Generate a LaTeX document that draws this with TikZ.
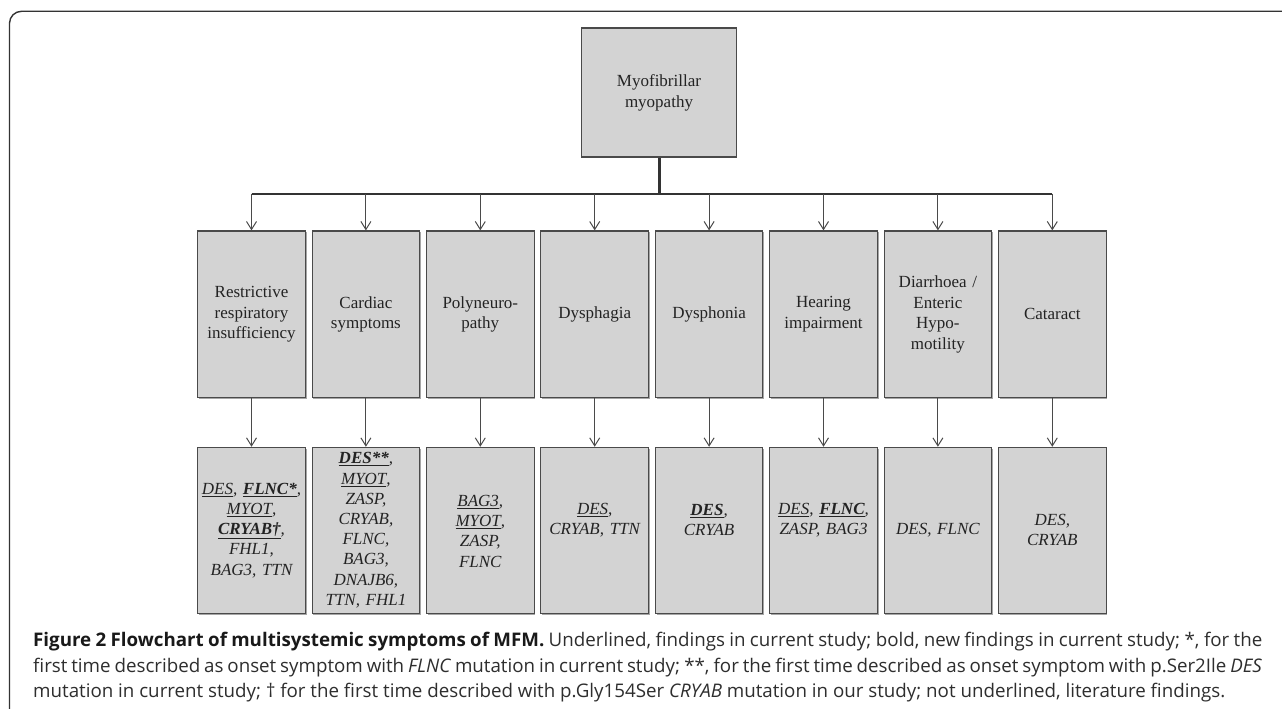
\documentclass[tikz,border=0pt]{standalone}
\usepackage{fontspec}
\setmainfont{Liberation Serif}
\newfontfamily\capfont{Open Sans}
\usetikzlibrary{arrows.meta,shadows}
\definecolor{boxfill}{HTML}{D3D3D3}
\definecolor{boxline}{HTML}{4A4A4A}
\definecolor{txt}{HTML}{232323}
\definecolor{conn}{HTML}{4A4A4A}
\definecolor{frm}{HTML}{333333}
\newcommand\ulgene[1]{\underline{#1}}
\newcommand\ulbold[1]{\underline{\textbf{#1}}}
\newdimen\capwd
\begin{document}
\setbox0=\hbox{\capfont\fontsize{15}{18}\selectfont mutation in current study; † for the first time described with p.Gly154Ser \textit{CRYAB} mutation in our study; not underlined, literature findings.}%
\global\capwd=\wd0
\pgfmathsetmacro\capratio{1192/\the\capwd}%
\pgfmathsetmacro\capsize{15*\capratio}%
\begin{tikzpicture}[x=1pt,y=-1pt,
  boxbase/.style={draw=boxline, line width=1.1pt, fill=boxfill, inner sep=0pt,
    drop shadow={shadow xshift=1.2pt, shadow yshift=-1.2pt, opacity=0.35, fill=black}},
  topbox/.style={boxbase, minimum width=154.3pt, minimum height=129pt, text width=150pt,
    align=center, font=\fontsize{17}{20.7}\selectfont, text=txt},
  symbox/.style={boxbase, minimum width=107.6pt, minimum height=166.7pt, text width=104pt,
    align=center, font=\fontsize{17}{20.7}\selectfont, text=txt},
  genebox/.style={boxbase, minimum width=107.6pt, minimum height=166pt},
  genetext/.style={inner sep=0pt, text width=106pt, align=center,
    font=\fontsize{17}{20.2}\selectfont\itshape, text=txt},
  arrowline/.style={draw=conn, line width=1.1pt, -{Straight Barb[length=8pt,width=10pt,line width=1pt]}},
  trunkline/.style={draw=frm, line width=3pt},
  busline/.style={draw=frm, line width=1.9pt},
  frameline/.style={draw=frm, line width=1.4pt, rounded corners=12pt},
  capline/.style={anchor=base west, inner sep=0pt, text=black!82}
]
\useasboundingbox (0,0) rectangle (1282,709);
\fill[white] (0,0) rectangle (1282,709);
\begin{scope}
  \clip (0,0) rectangle (1282,709);
  \draw[frameline] (9.5,11.3) rectangle (1330,760);
\end{scope}

% top node
\node[topbox] (top) at (659,92.5) {Myofibrillar\\myopathy};

% middle row
\foreach \i/\t in {1/{Restrictive\\respiratory\\insufficiency},
                   2/{Cardiac\\symptoms},
                   3/{Polyneuro-\\pathy},
                   4/{Dysphagia},
                   5/{Dysphonia},
                   6/{Hearing\\impairment},
                   7/{Diarrhoea /\\Enteric\\Hypo-\\motility},
                   8/{Cataract}} {
  \node[symbox] (m\i) at ({251.5+114.4*(\i-1)},314.3) {\t};
}

% bottom row boxes
\foreach \i in {1,...,8} {
  \node[genebox] (b\i) at ({251.5+114.4*(\i-1)},530.3) {};
}

% bottom row texts
\foreach \i/\dy/\t in {
  1/0/{\ulgene{DES}, \ulbold{FLNC*},\\\ulgene{MYOT},\\\ulbold{CRYAB†},\\FHL1,\\BAG3, TTN},
  2/0/{\ulbold{DES**},\\\ulgene{MYOT},\\ZASP,\\CRYAB,\\FLNC,\\BAG3,\\DNAJB6,\\TTN, FHL1},
  3/-1/{\ulgene{BAG3},\\\ulgene{MYOT},\\ZASP,\\FLNC},
  4/10/{\ulgene{DES},\\CRYAB, TTN},
  5/10/{\ulbold{DES},\\CRYAB},
  6/10/{\ulgene{DES}, \ulbold{FLNC},\\ZASP, BAG3},
  7/0/{DES, FLNC},
  8/0/{DES,\\CRYAB}} {
  \node[genetext, yshift=\dy pt] (g\i) at (b\i.center) {\t};
}

% connectors
\coordinate (bus) at (659.3,193.7);
\draw[trunkline] (top.south) -- (top.south |- bus);
\draw[busline] (m1.north |- bus) -- (m8.north |- bus);
\foreach \i in {1,...,8} {
  \draw[arrowline] (m\i.north |- bus) -- (m\i.north);
  \draw[arrowline] (m\i.south) -- (b\i.north);
}

% caption
\node[capline] (cap1) at (33,646) {\capfont\fontsize{\capsize}{\capsize}\selectfont
  \makebox[1229pt][s]{\textbf{\color{black!90}Figure 2 Flowchart of multisystemic symptoms of MFM.} Underlined, findings in current study; bold, new findings in current study; *, for the}};
\node[capline] (cap2) at (33,672) {\capfont\fontsize{\capsize}{\capsize}\selectfont
  \makebox[1229pt][s]{first time described as onset symptom with \textit{FLNC} mutation in current study; **, for the first time described as onset symptom with p.Ser2Ile \textit{DES}}};
\node[capline] (cap3) at (33,697.5) {\capfont\fontsize{\capsize}{\capsize}\selectfont
  mutation in current study; † for the first time described with p.Gly154Ser \textit{CRYAB} mutation in our study; not underlined, literature findings.};
\end{tikzpicture}
\end{document}
